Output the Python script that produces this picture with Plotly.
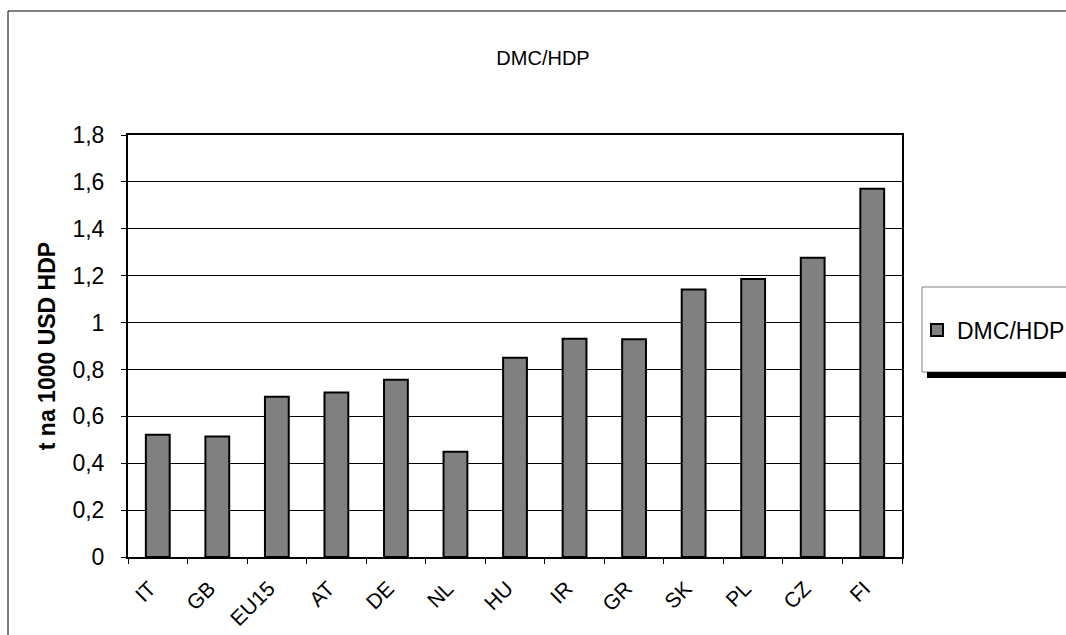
import plotly.graph_objects as go

categories = ["IT", "GB", "EU15", "AT", "DE", "NL", "HU", "IR", "GR", "SK", "PL", "CZ", "FI"]
values = [0.521, 0.514, 0.683, 0.702, 0.756, 0.449, 0.850, 0.931, 0.929, 1.141, 1.186, 1.276, 1.571]
y_ticks = [0, 0.2, 0.4, 0.6, 0.8, 1.0, 1.2, 1.4, 1.6, 1.8]
y_tick_labels = ["0", "0,2", "0,4", "0,6", "0,8", "1", "1,2", "1,4", "1,6", "1,8"]
series_name = "DMC/HDP"
chart_title = "DMC/HDP"
y_title = "t na 1000 USD HDP"

W, H = 1066, 635
L, R, T, B = 128, 164, 135, 78
pw = W - L - R
ph = H - T - B

def px_x(x):
    return (x - L) / pw

def px_y(y):
    return (H - B - y) / ph

FONT = "Liberation Sans, Arial, sans-serif"

fig = go.Figure()
fig.add_trace(go.Bar(
    x=categories, y=values, name=series_name,
    marker=dict(color="#808080", line=dict(color="black", width=2)),
))

fig.update_layout(
    width=W, height=H,
    margin=dict(l=L, r=R, t=T, b=B, autoexpand=False),
    paper_bgcolor="white", plot_bgcolor="white",
    bargap=0.6,
    font=dict(family=FONT, color="black", size=22),
    title=dict(text=chart_title, x=px_x(543), xref="paper", xanchor="center",
               y=1 - 58 / H, yref="container", yanchor="middle",
               font=dict(family=FONT, size=20, color="black")),
    showlegend=True,
    legend=dict(x=px_x(917), y=px_y(330), xanchor="left", yanchor="middle",
                bgcolor="rgba(0,0,0,0)", borderwidth=0,
                font=dict(family=FONT, size=23, color="black"),
                itemwidth=30),
    xaxis=dict(
        tickson="boundaries", ticks="outside", ticklen=5, tickcolor="black",
        tickangle=-45, showline=True, linecolor="black", linewidth=2, mirror=True,
        showgrid=False, tickfont=dict(family=FONT, size=21),
        ticklabelstandoff=9, ticklabelshift=-8,
    ),
    yaxis=dict(
        range=[0, 1.8], tickvals=y_ticks, ticktext=y_tick_labels,
        ticks="outside", ticklen=5, tickcolor="black",
        showline=True, linecolor="black", linewidth=2, mirror=True,
        showgrid=True, gridcolor="black", gridwidth=1, zeroline=False,
        tickfont=dict(family=FONT, size=23), ticklabelstandoff=12,
        title=dict(text="<b>" + y_title + "</b>", font=dict(family=FONT, size=23), standoff=10),
    ),
)

shapes = []
# outer chart border
shapes.append(dict(type="rect", xref="paper", yref="paper",
                   x0=px_x(8), x1=px_x(1100), y0=px_y(700), y1=px_y(11),
                   line=dict(color="black", width=1), fillcolor="rgba(0,0,0,0)", layer="below"))
# legend shadow
shapes.append(dict(type="rect", xref="paper", yref="paper",
                   x0=px_x(927), x1=px_x(1080), y0=px_y(378), y1=px_y(372),
                   line=dict(width=0), fillcolor="black", layer="above"))
# legend box
shapes.append(dict(type="rect", xref="paper", yref="paper",
                   x0=px_x(922), x1=px_x(1080), y0=px_y(372), y1=px_y(287),
                   line=dict(color="#808080", width=1), fillcolor="white", layer="below"))
fig.update_layout(shapes=shapes)

fig.write_html("out.html", config={"displayModeBar": False},
               post_script="document.body.style.margin='0';")
